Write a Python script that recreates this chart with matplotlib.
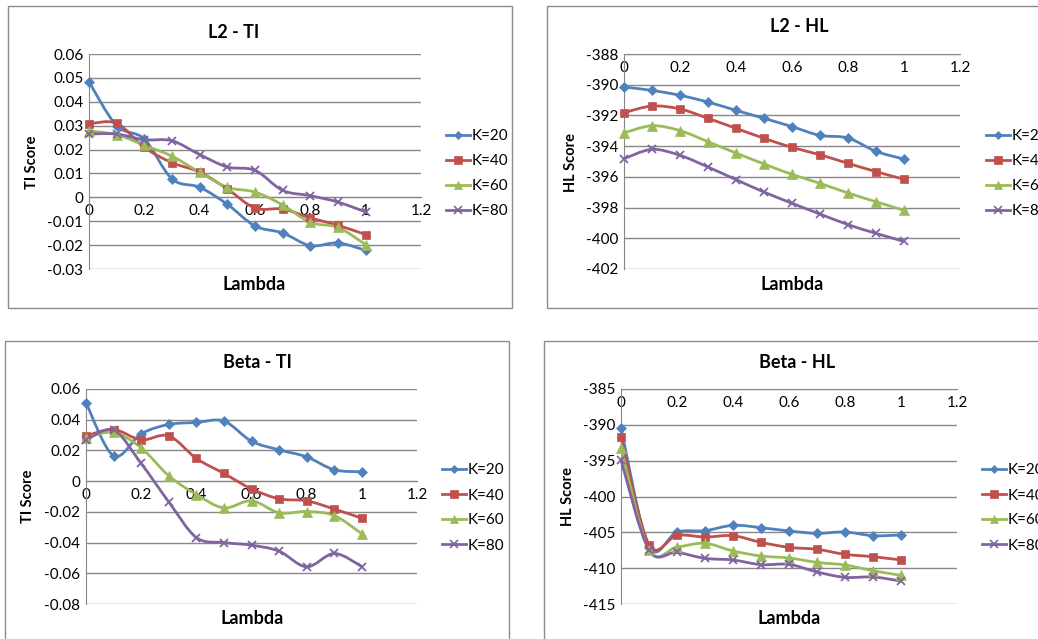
import numpy as np
import matplotlib
matplotlib.use('Agg')
import matplotlib.pyplot as plt
from matplotlib.path import Path
from matplotlib.patches import PathPatch, Rectangle
from matplotlib.lines import Line2D

plt.rcParams['font.family'] = ['Lato', 'DejaVu Sans']
plt.rcParams['axes.unicode_minus'] = False

# data
lam = [0, 0.1, 0.2, 0.3, 0.4, 0.5, 0.6, 0.7, 0.8, 0.9, 1.0]
labels = ['K=20', 'K=40', 'K=60', 'K=80']

l2_ti_k20 = [0.0483, 0.0300, 0.0244, 0.0077, 0.0042, -0.0029, -0.0120, -0.0149, -0.0202, -0.0191, -0.0222]
l2_ti_k40 = [0.0308, 0.0310, 0.0209, 0.0145, 0.0106, 0.0035, -0.0045, -0.0049, -0.0086, -0.0117, -0.0156]
l2_ti_k60 = [0.0278, 0.0262, 0.0218, 0.0172, 0.0105, 0.0042, 0.0022, -0.0032, -0.0105, -0.0126, -0.0198]
l2_ti_k80 = [0.0265, 0.0265, 0.0241, 0.0237, 0.0179, 0.0127, 0.0113, 0.0029, 0.0007, -0.0020, -0.0061]

l2_hl_k20 = [-390.15, -390.37, -390.69, -391.13, -391.67, -392.19, -392.73, -393.30, -393.47, -394.34, -394.84]
l2_hl_k40 = [-391.82, -391.39, -391.58, -392.19, -392.84, -393.49, -394.08, -394.56, -395.12, -395.66, -396.16]
l2_hl_k60 = [-393.14, -392.67, -392.99, -393.71, -394.45, -395.16, -395.84, -396.42, -397.05, -397.62, -398.18]
l2_hl_k80 = [-394.82, -394.21, -394.60, -395.36, -396.18, -396.99, -397.72, -398.42, -399.11, -399.68, -400.20]

beta_ti_k20 = [0.0510, 0.0165, 0.0308, 0.0369, 0.0382, 0.0391, 0.0260, 0.0204, 0.0158, 0.0074, 0.0061]
beta_ti_k40 = [0.0295, 0.0336, 0.0269, 0.0295, 0.0148, 0.0050, -0.0050, -0.0115, -0.0128, -0.0182, -0.0241]
beta_ti_k60 = [0.0284, 0.0317, 0.0217, 0.0035, -0.0087, -0.0174, -0.0128, -0.0206, -0.0198, -0.0224, -0.0343]
beta_ti_k80 = [0.0267, 0.0332, 0.0115, -0.0135, -0.0367, -0.0400, -0.0417, -0.0456, -0.0558, -0.0471, -0.0556]

beta_hl_k20 = [-390.4, -407.0, -404.95, -404.77, -404.02, -404.35, -404.81, -405.14, -404.95, -405.47, -405.37]
beta_hl_k40 = [-391.7, -406.7, -405.42, -405.65, -405.47, -406.40, -407.09, -407.37, -408.07, -408.40, -408.86]
beta_hl_k60 = [-393.19, -407.47, -407.05, -406.53, -407.60, -408.30, -408.58, -409.19, -409.56, -410.35, -411.00]
beta_hl_k80 = [-394.9, -407.47, -407.79, -408.63, -408.86, -409.51, -409.47, -410.53, -411.28, -411.23, -411.79]

colors = ['#4F81BD', '#C0504D', '#9BBB59', '#8064A2']
markers = ['D', 's', '^', 'x']
msizes = [5, 6, 6.5, 6]

W, H = 1038, 639
fig = plt.figure(figsize=(W / 100, H / 100), dpi=100)


def fx(px):
    return px / W


def fy(px):
    return 1 - px / H


def smooth_path(x, y):
    # Excel-like smoothed line: Bezier segments through every point
    x = np.asarray(x, float)
    y = np.asarray(y, float)
    n = len(x)
    verts = [(x[0], y[0])]
    codes = [Path.MOVETO]
    for i in range(n - 1):
        i0 = max(i - 1, 0)
        i3 = min(i + 2, n - 1)
        c1 = (x[i] + (x[i + 1] - x[i0]) / 6, y[i] + (y[i + 1] - y[i0]) / 6)
        c2 = (x[i + 1] - (x[i3] - x[i]) / 6, y[i + 1] - (y[i3] - y[i]) / 6)
        verts += [c1, c2, (x[i + 1], y[i + 1])]
        codes += [Path.CURVE4] * 3
    return Path(verts, codes)


panels = [
    dict(series=[l2_ti_k20, l2_ti_k40, l2_ti_k60, l2_ti_k80], title='L2 - TI', ylabel='TI Score',
         ylim=(-0.03, 0.06), ystep=0.01, xaxis_at=0,
         ax=(89, 54, 421, 269), box=(8, 6, 512, 308), title_xy=(234, 32), xl_xy=(254, 284),
         yl_xy=(32, 162), leg_xy=(446, 174)),
    dict(series=[l2_hl_k20, l2_hl_k40, l2_hl_k60, l2_hl_k80], title='L2 - HL', ylabel='HL Score',
         ylim=(-402, -388), ystep=2, xaxis_at=-388,
         ax=(624, 54, 960, 269), box=(547, 6, 1045, 308), title_xy=(799, 27), xl_xy=(792, 284),
         yl_xy=(571, 162), leg_xy=(986, 174)),
    dict(series=[beta_ti_k20, beta_ti_k40, beta_ti_k60, beta_ti_k80], title='Beta - TI', ylabel='TI Score',
         ylim=(-0.08, 0.06), ystep=0.02, xaxis_at=0,
         ax=(86, 389, 417, 604), box=(5, 341, 509, 650), title_xy=(257, 362), xl_xy=(252, 618),
         yl_xy=(28, 496), leg_xy=(442, 508)),
    dict(series=[beta_hl_k20, beta_hl_k40, beta_hl_k60, beta_hl_k80], title='Beta - HL', ylabel='HL Score',
         ylim=(-415, -385), ystep=5, xaxis_at=-385,
         ax=(621, 389, 957, 604), box=(544, 341, 1045, 650), title_xy=(797, 362), xl_xy=(789, 618),
         yl_xy=(568, 496), leg_xy=(982, 508)),
]

grid_col = '#878787'

for p in panels:
    bx0, by0, bx1, by1 = p['box']
    fig.patches.append(Rectangle((fx(bx0), fy(by1)), fx(bx1 - bx0), (by1 - by0) / H,
                                 transform=fig.transFigure, fill=False, edgecolor='#8c8c8c', lw=1))

    l, t, r, b = p['ax']
    ax = fig.add_axes([fx(l), fy(b), fx(r - l), (b - t) / H])
    ax.set_facecolor('none')
    lo, hi = p['ylim']
    ax.set_xlim(0, 1.2)
    ax.set_ylim(lo, hi)
    yt = np.round(np.arange(lo, hi + p['ystep'] / 2, p['ystep']), 4)
    ax.set_yticks(yt)
    ax.set_yticklabels(['%g' % v for v in yt])
    xt = np.round(np.arange(0, 1.21, 0.2), 1)
    ax.set_xticks(xt)
    ax.set_xticklabels(['%g' % v for v in xt])
    for v in yt:
        ax.axhline(v, color=grid_col, lw=1, zorder=0)
    for s in ['top', 'right']:
        ax.spines[s].set_visible(False)
    ax.spines['left'].set_color(grid_col)
    ax.spines['bottom'].set_color(grid_col)
    ax.spines['bottom'].set_position(('data', p['xaxis_at']))
    ax.tick_params(axis='both', length=0, labelsize=11, colors='black')
    ax.tick_params(axis='x', pad=5)
    ax.tick_params(axis='y', pad=4)

    for ys, c, m, ms in zip(p['series'], colors, markers, msizes):
        ax.add_patch(PathPatch(smooth_path(lam, ys), facecolor='none', edgecolor=c, lw=2,
                               zorder=3, clip_on=False))
        ax.plot(lam, ys, linestyle='none', marker=m, color=c, markersize=ms,
                markeredgewidth=1.3 if m == 'x' else 0.5, zorder=4, clip_on=False)

    fig.text(fx(p['title_xy'][0]), fy(p['title_xy'][1]), p['title'], ha='center', va='center',
             fontsize=13, fontweight='bold')
    fig.text(fx(p['xl_xy'][0]), fy(p['xl_xy'][1]), 'Lambda', ha='center', va='center',
             fontsize=13, fontweight='bold')
    fig.text(fx(p['yl_xy'][0]), fy(p['yl_xy'][1]), p['ylabel'], ha='center', va='center',
             fontsize=10.5, fontweight='bold', rotation=90)

    handles = [Line2D([0], [0], color=c, marker=m, markersize=ms * 0.85, lw=2,
                      markeredgewidth=1.2 if m == 'x' else 0.5)
               for c, m, ms in zip(colors, markers, msizes)]
    fig.legend(handles, labels, loc='center left',
               bbox_to_anchor=(fx(p['leg_xy'][0]), fy(p['leg_xy'][1])),
               frameon=False, fontsize=11, handlelength=1.6, handletextpad=0.1,
               labelspacing=0.72, borderpad=0, borderaxespad=0)

fig.savefig('out.png', dpi=100)
